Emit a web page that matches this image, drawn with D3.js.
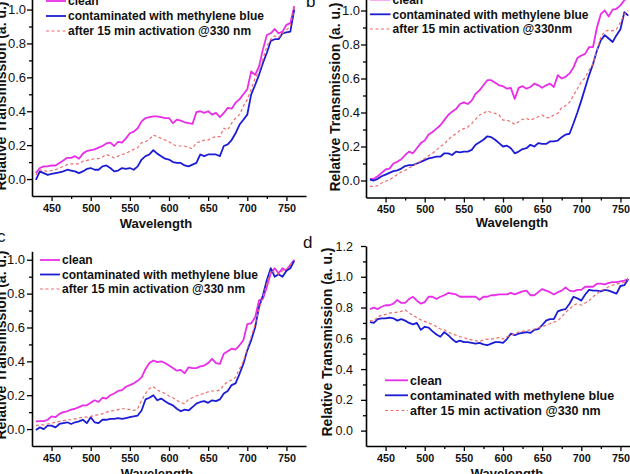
<!DOCTYPE html>
<html><head><meta charset="utf-8">
<script src="https://cdn.jsdelivr.net/npm/d3@7"></script>
<style>
body{margin:0;background:#fff;}
svg{display:block;font-family:Arial,"Liberation Sans",sans-serif;}
</style></head><body>
<svg id="chart" width="630" height="474"></svg>
<script>
// ---- data ----
const wavelengths = [430,435,440,445,450,455,460,465,470,475,
  480,485,490,495,500,505,510,515,520,525,
  530,535,540,545,550,555,560,565,570,575,
  580,585,590,595,600,605,610,615,620,625,
  630,635,640,645,650,655,660,665,670,675,
  680,685,690,695,700,705,710,715,720,725,
  730,735,740,745,750,755,760];

const aClean = [0.035,0.065,0.075,0.075,0.080,0.080,0.095,0.110,0.125,0.125,
  0.135,0.120,0.150,0.165,0.170,0.175,0.185,0.195,0.210,0.215,
  0.195,0.220,0.215,0.240,0.270,0.280,0.300,0.340,0.360,0.365,
  0.370,0.370,0.365,0.360,0.360,0.330,0.350,0.345,0.335,0.330,
  0.325,0.395,0.400,0.390,0.400,0.380,0.390,0.365,0.390,0.420,
  0.415,0.450,0.470,0.500,0.530,0.635,0.615,0.665,0.765,0.850,
  0.860,0.885,0.860,0.870,0.910,0.920,1.020];
const aBlue = [-0.005,0.045,0.035,0.025,0.030,0.035,0.040,0.045,0.055,0.050,
  0.045,0.035,0.045,0.060,0.065,0.055,0.055,0.075,0.080,0.065,
  0.045,0.050,0.065,0.060,0.065,0.055,0.075,0.115,0.135,0.145,
  0.170,0.150,0.135,0.120,0.115,0.100,0.095,0.095,0.080,0.075,
  0.085,0.095,0.145,0.135,0.145,0.145,0.145,0.135,0.195,0.205,
  0.230,0.270,0.320,0.350,0.380,0.500,0.555,0.615,0.685,0.745,
  0.815,0.825,0.825,0.860,0.865,0.870,1.000];
const aAfter = [0.025,0.055,0.050,0.045,0.050,0.055,0.065,0.075,0.085,0.090,
  0.090,0.090,0.105,0.110,0.115,0.120,0.120,0.130,0.145,0.135,
  0.125,0.135,0.145,0.150,0.165,0.175,0.185,0.215,0.220,0.235,
  0.260,0.250,0.240,0.230,0.220,0.205,0.195,0.195,0.195,0.185,
  0.180,0.215,0.220,0.230,0.230,0.245,0.250,0.250,0.300,0.290,
  0.330,0.360,0.380,0.430,0.470,0.530,0.595,0.635,0.705,0.785,
  0.825,0.845,0.835,0.860,0.880,0.900,1.010];

const bClean = [0.010,0.010,0.025,0.045,0.065,0.070,0.100,0.110,0.125,0.150,
  0.170,0.160,0.190,0.220,0.235,0.270,0.285,0.305,0.325,0.355,
  0.385,0.405,0.420,0.450,0.460,0.450,0.470,0.510,0.530,0.560,
  0.590,0.590,0.575,0.560,0.555,0.540,0.545,0.480,0.545,0.555,
  0.540,0.550,0.570,0.560,0.545,0.560,0.570,0.550,0.620,0.600,
  0.610,0.630,0.665,0.720,0.735,0.745,0.785,0.785,0.900,0.980,
  1.000,0.965,1.005,1.010,1.030,1.060,1.080];
const bBlue = [0.005,0.000,0.010,0.025,0.035,0.045,0.055,0.060,0.070,0.085,
  0.090,0.090,0.100,0.110,0.120,0.130,0.135,0.140,0.140,0.160,
  0.160,0.150,0.170,0.165,0.170,0.170,0.180,0.210,0.225,0.240,
  0.260,0.255,0.240,0.220,0.200,0.205,0.190,0.160,0.170,0.185,
  0.190,0.210,0.200,0.220,0.215,0.215,0.230,0.230,0.235,0.255,
  0.270,0.275,0.335,0.400,0.470,0.545,0.620,0.685,0.765,0.825,
  0.855,0.835,0.815,0.855,0.890,0.990,0.970];
const bAfter = [-0.035,-0.035,-0.030,-0.015,-0.005,0.005,0.020,0.035,0.050,0.060,
  0.075,0.085,0.100,0.115,0.130,0.145,0.160,0.180,0.200,0.215,
  0.240,0.260,0.275,0.295,0.305,0.315,0.335,0.360,0.385,0.395,
  0.410,0.400,0.395,0.385,0.355,0.355,0.345,0.330,0.345,0.360,
  0.365,0.355,0.365,0.375,0.385,0.370,0.370,0.385,0.395,0.430,
  0.440,0.460,0.500,0.540,0.580,0.605,0.650,0.685,0.765,0.845,
  0.875,0.885,0.880,0.890,0.930,0.980,1.000];

const cClean = [0.045,0.047,0.047,0.055,0.075,0.070,0.090,0.100,0.105,0.115,
  0.120,0.130,0.140,0.140,0.155,0.170,0.160,0.185,0.180,0.200,
  0.210,0.225,0.230,0.250,0.260,0.270,0.285,0.305,0.355,0.390,
  0.405,0.395,0.400,0.390,0.375,0.360,0.345,0.350,0.330,0.365,
  0.360,0.360,0.370,0.375,0.390,0.415,0.390,0.385,0.445,0.460,
  0.475,0.470,0.495,0.525,0.620,0.625,0.660,0.760,0.770,0.840,
  0.920,0.950,0.920,0.950,0.935,0.970,1.000];
const cBlue = [-0.005,0.010,0.000,0.020,0.020,0.010,0.030,0.035,0.040,0.030,
  0.040,0.045,0.055,0.035,0.070,0.040,0.035,0.055,0.055,0.060,
  0.060,0.065,0.060,0.065,0.070,0.075,0.080,0.110,0.175,0.185,
  0.200,0.170,0.180,0.165,0.150,0.140,0.120,0.105,0.115,0.110,
  0.130,0.150,0.160,0.165,0.155,0.170,0.165,0.175,0.210,0.225,
  0.260,0.270,0.325,0.385,0.465,0.525,0.600,0.720,0.790,0.880,
  0.950,0.900,0.915,0.900,0.935,0.950,0.995];
const cAfter = [0.020,0.025,0.025,0.030,0.035,0.040,0.045,0.050,0.055,0.055,
  0.060,0.065,0.070,0.070,0.075,0.080,0.085,0.090,0.100,0.105,
  0.110,0.115,0.120,0.120,0.115,0.110,0.120,0.170,0.210,0.240,
  0.250,0.230,0.220,0.210,0.195,0.185,0.170,0.155,0.150,0.175,
  0.185,0.195,0.205,0.210,0.220,0.225,0.225,0.230,0.260,0.280,
  0.290,0.305,0.355,0.400,0.475,0.545,0.620,0.710,0.780,0.860,
  0.935,0.925,0.915,0.935,0.945,0.970,1.000];

const dClean = [0.790,0.800,0.790,0.805,0.815,0.815,0.825,0.850,0.830,0.830,
  0.855,0.870,0.845,0.825,0.835,0.870,0.870,0.855,0.870,0.880,
  0.895,0.890,0.885,0.870,0.870,0.870,0.870,0.870,0.850,0.870,
  0.870,0.880,0.880,0.885,0.885,0.885,0.895,0.885,0.895,0.905,
  0.910,0.880,0.880,0.900,0.920,0.910,0.900,0.885,0.900,0.910,
  0.930,0.910,0.905,0.915,0.915,0.935,0.935,0.935,0.955,0.955,
  0.950,0.960,0.965,0.965,0.970,0.975,0.985];
const dBlue = [0.705,0.700,0.725,0.730,0.730,0.735,0.730,0.715,0.725,0.715,
  0.700,0.690,0.700,0.655,0.675,0.670,0.645,0.625,0.610,0.640,
  0.620,0.595,0.575,0.585,0.575,0.575,0.570,0.565,0.570,0.560,
  0.555,0.565,0.575,0.575,0.570,0.595,0.630,0.620,0.630,0.635,
  0.640,0.635,0.655,0.660,0.685,0.715,0.725,0.725,0.775,0.785,
  0.790,0.825,0.870,0.860,0.845,0.885,0.915,0.910,0.910,0.905,
  0.915,0.910,0.900,0.890,0.940,0.945,0.985];
const dAfter = [0.715,0.710,0.740,0.750,0.755,0.765,0.765,0.770,0.775,0.785,
  0.765,0.750,0.735,0.720,0.710,0.700,0.690,0.675,0.660,0.655,
  0.640,0.630,0.620,0.610,0.605,0.595,0.590,0.585,0.580,0.590,
  0.595,0.595,0.600,0.605,0.595,0.610,0.620,0.630,0.640,0.645,
  0.650,0.655,0.660,0.670,0.675,0.685,0.695,0.705,0.715,0.740,
  0.770,0.790,0.815,0.825,0.815,0.830,0.845,0.870,0.890,0.910,
  0.920,0.935,0.945,0.955,0.955,0.965,0.985];

const xTicks = [450,500,550,600,650,700,750];
const xMinorTicks = [475,525,575,625,675,725];
const yTicks = [0,0.2,0.4,0.6,0.8,1.0];
const yMinorTicks = [0.1,0.3,0.5,0.7,0.9];
const yTicksD = [0,0.2,0.4,0.6,0.8,1.0,1.2];
const yMinorTicksD = [0.1,0.3,0.5,0.7,0.9,1.1];
const seriesNames = ["clean","contaminated with methylene blue","after 15 min activation @330 nm"];
const seriesNamesB = ["clean","contaminated with methylene blue","after 15 min activation @330nm"];
const xTitle = "Wavelength";
const yTitle = "Relative Transmission (a. u.)";

// ---- styles / layout ----
const colors = ["#e82ee8","#1c1cd6","#ee6b6b"];
const widths = [1.8,1.8,1.2];
const dashes = [null,null,"3,2.5"];

const panels = [
  {letter:null, data:[aClean,aBlue,aAfter], names:seriesNames,
   xr:[32,306], yr:[196,-7.4], yd:[-0.1,1.1], yt:yTicks, ym:yMinorTicks, ytFs:13, ytPad:1,
   leg:{x:46, tx:68, ys:[1,16,31], fs:12}, yl:{x:6, y:96}, xl:{x:156, y:228}},
  {letter:{t:"b", x:306, y:7}, data:[bClean,bBlue,bAfter], names:seriesNamesB,
   xr:[366,640], yr:[197.5,-6.5], yd:[-0.1,1.1], yt:yTicks, ym:yMinorTicks, ytFs:13, ytPad:1,
   leg:{x:370, tx:392.5, ys:[-0.5,14.3,29], fs:12}, yl:{x:340, y:97}, xl:{x:512, y:227}},
  {letter:{t:"c", x:-3, y:242}, data:[cClean,cBlue,cAfter], names:seriesNames,
   xr:[32,306], yr:[446,251.3], yd:[-0.1,1.05], yt:yTicks, ym:yMinorTicks, ytFs:13, ytPad:2,
   leg:{x:40, tx:62, ys:[260,274.5,289], fs:12}, yl:{x:6, y:345}, xl:{x:157, y:478}},
  {letter:{t:"d", x:303, y:248}, data:[dClean,dBlue,dAfter], names:seriesNames,
   xr:[366,640], yr:[446,246], yd:[-0.1,1.2], yt:yTicksD, ym:yMinorTicksD, ytFs:12.5, ytPad:8,
   leg:{x:385, tx:410, ys:[380.3,395.3,410.5], fs:12.5}, yl:{x:332, y:342}, xl:{x:507, y:478}}
];

const svg = d3.select("#chart");

panels.forEach(p => {
  const g = svg.append("g");
  const x = d3.scaleLinear().domain([425,775]).range(p.xr);
  const y = d3.scaleLinear().domain(p.yd).range(p.yr);

  // series
  const line = d3.line().x((d,i)=>x(wavelengths[i])).y(d=>y(d));
  p.data.forEach((s,k) => {
    g.append("path").datum(s).attr("d", line)
      .attr("fill","none").attr("stroke",colors[k]).attr("stroke-width",widths[k])
      .attr("stroke-dasharray",dashes[k]).attr("stroke-linejoin","round");
  });

  // x axis
  const xAxis = g.append("g").attr("transform",`translate(0,${p.yr[0]})`)
    .call(d3.axisBottom(x).tickValues(xTicks).tickSize(5).tickSizeOuter(0).tickPadding(3));
  xAxis.selectAll("text").attr("font-size",10.8).attr("font-weight","bold").attr("fill","#111")
    .attr("font-family","Arial, 'Liberation Sans', sans-serif");
  const xMinor = g.append("g").attr("transform",`translate(0,${p.yr[0]})`)
    .call(d3.axisBottom(x).tickValues(xMinorTicks).tickSize(3).tickFormat(""));
  xMinor.select(".domain").remove();

  // y axis
  const yAxis = g.append("g").attr("transform",`translate(${p.xr[0]},0)`)
    .call(d3.axisLeft(y).tickValues(p.yt).tickSize(5).tickSizeOuter(0).tickPadding(p.ytPad)
      .tickFormat(d3.format(".1f")));
  yAxis.selectAll("text").attr("font-size",p.ytFs).attr("fill","#111")
    .attr("font-family","Arial, 'Liberation Sans', sans-serif");
  const yMinor = g.append("g").attr("transform",`translate(${p.xr[0]},0)`)
    .call(d3.axisLeft(y).tickValues(p.ym).tickSize(3).tickFormat(""));
  yMinor.select(".domain").remove();

  g.selectAll(".domain").attr("stroke","#000").attr("stroke-width",1.6);
  g.selectAll(".tick line").attr("stroke","#000").attr("stroke-width",1.3);

  // titles
  g.append("text").attr("x",p.xl.x).attr("y",p.xl.y).attr("text-anchor","middle")
    .attr("font-size",13).attr("font-weight","bold").attr("fill","#111").text(xTitle);
  g.append("text").attr("transform",`translate(${p.yl.x},${p.yl.y}) rotate(-90)`)
    .attr("text-anchor","middle").attr("font-size",14).attr("font-weight","bold")
    .attr("fill","#111").text(yTitle);

  // legend
  p.names.forEach((n,k) => {
    const yy = p.leg.ys[k];
    g.append("line").attr("x1",p.leg.x).attr("x2",p.leg.tx-2).attr("y1",yy).attr("y2",yy)
      .attr("stroke",colors[k]).attr("stroke-width",widths[k]).attr("stroke-dasharray",dashes[k]);
    g.append("text").attr("x",p.leg.tx).attr("y",yy).attr("dy","0.35em")
      .attr("font-size",p.leg.fs).attr("font-weight","bold").attr("fill","#111").text(n);
  });

  if (p.letter) {
    g.append("text").attr("x",p.letter.x).attr("y",p.letter.y)
      .attr("font-size",17).attr("fill","#111").text(p.letter.t);
  }
});
</script>
</body></html>
